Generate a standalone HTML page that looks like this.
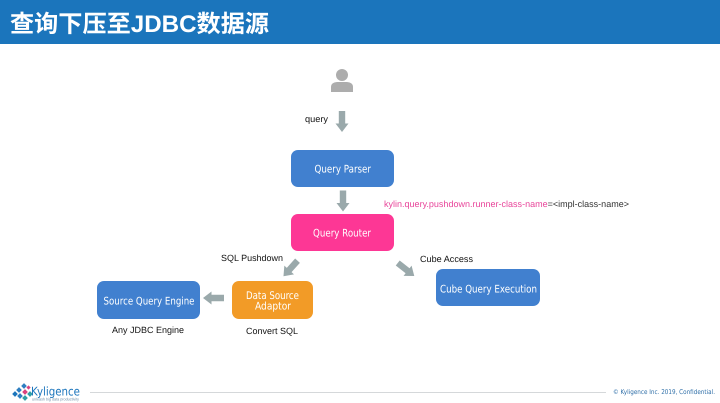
<!DOCTYPE html>
<html lang="zh">
<head>
<meta charset="utf-8">
<title>查询下压至JDBC数据源</title>
<style>
html,body{margin:0;padding:0;background:#fff}
body{width:720px;height:403px;overflow:hidden;position:relative}
svg{display:block;position:absolute;left:0;top:0;filter:blur(.35px);text-rendering:geometricPrecision}
</style>
</head>
<body>
<svg width="720" height="403" viewBox="0 0 720 403" xmlns="http://www.w3.org/2000/svg">
<defs>
<path id="arr" d="M-3.200,-10.500 H3.200 V2 H6.500 L0,10.500 L-6.500,2 H-3.200 Z" fill="#9aa9ab"/>
</defs>
<rect width="720" height="403" fill="#fff"/>
<rect width="720" height="44" fill="#1b75bc"/>
<text x="10" y="32" font-family="'Liberation Sans','Noto Sans CJK SC',sans-serif" font-size="24" font-weight="700" fill="#fff" textLength="259" lengthAdjust="spacingAndGlyphs">查询下压至JDBC数据源</text>

<!-- user -->
<circle cx="342" cy="75" r="6" fill="#adadad"/>
<path d="M331,92 V87 Q331,82.500 337,82 H347 Q353,82.500 353,87 V92 Z" fill="#adadad"/>

<!-- arrows -->
<use href="#arr" transform="translate(342,121.500)"/>
<use href="#arr" transform="translate(343,201)"/>
<use href="#arr" transform="translate(290.500,268.500) rotate(42)"/>
<use href="#arr" transform="translate(406,269.500) rotate(-52)"/>
<use href="#arr" transform="translate(213.500,298) rotate(90)"/>

<!-- boxes -->
<rect x="291" y="150" width="103" height="37" rx="7" fill="#4180cf"/>
<rect x="291" y="214" width="103" height="37" rx="7" fill="#fd3795"/>
<rect x="97" y="281" width="103" height="38" rx="7" fill="#4180cf"/>
<rect x="232" y="281" width="81" height="38" rx="7" fill="#f29b27"/>
<rect x="436" y="269" width="104" height="37" rx="7" fill="#4180cf"/>

<g font-family="'DejaVu Sans',sans-serif" font-size="10.500" fill="#fff">
<text x="314.500" y="172.500" textLength="56.500" lengthAdjust="spacingAndGlyphs">Query Parser</text>
<text x="313" y="236.500" textLength="58" lengthAdjust="spacingAndGlyphs">Query Router</text>
<text x="103.500" y="304.500" textLength="91" lengthAdjust="spacingAndGlyphs">Source Query Engine</text>
<text x="246" y="299" textLength="53" lengthAdjust="spacingAndGlyphs">Data Source</text>
<text x="255" y="309.500" textLength="36" lengthAdjust="spacingAndGlyphs">Adaptor</text>
<text x="440" y="292.500" textLength="97" lengthAdjust="spacingAndGlyphs">Cube Query Execution</text>
</g>

<g font-family="'Liberation Sans',sans-serif" font-size="9" fill="#111">
<text x="305" y="122" textLength="23" lengthAdjust="spacingAndGlyphs">query</text>
<text x="221" y="261" textLength="62" lengthAdjust="spacingAndGlyphs">SQL Pushdown</text>
<text x="420" y="262" textLength="53" lengthAdjust="spacingAndGlyphs">Cube Access</text>
<text x="112" y="333" textLength="72" lengthAdjust="spacingAndGlyphs">Any JDBC Engine</text>
<text x="246" y="334" textLength="52" lengthAdjust="spacingAndGlyphs">Convert SQL</text>
<text x="384" y="207" textLength="245" lengthAdjust="spacingAndGlyphs"><tspan fill="#e8459a">kylin.query.pushdown.runner-class-name</tspan><tspan fill="#333">=&lt;impl-class-name&gt;</tspan></text>
</g>

<!-- footer -->
<line x1="90" y1="392.500" x2="606" y2="392.500" stroke="#d5d8da" stroke-width="1"/>
<g>
<rect x="17" y="388" width="4" height="4" transform="rotate(45 19 390)" fill="#2f7fc1"/>
<rect x="22" y="384" width="4" height="4" transform="rotate(45 24 386)" fill="#2f7fc1"/>
<rect x="13" y="392" width="4" height="4" transform="rotate(45 15 394)" fill="#1b75bc"/>
<rect x="18" y="394" width="4" height="4" transform="rotate(45 20 396)" fill="#2f7fc1"/>
<rect x="23" y="390" width="4" height="4" transform="rotate(45 25 392)" fill="#d9437f"/>
<rect x="27" y="386" width="3" height="3" transform="rotate(45 28.500 387.500)" fill="#d9437f"/>
<rect x="23" y="396" width="4" height="4" transform="rotate(45 25 398)" fill="#2f9fa8"/>
<rect x="28" y="392" width="4" height="4" transform="rotate(45 30 394)" fill="#2f9fa8"/>
</g>
<text x="31" y="395.500" font-family="'DejaVu Sans',sans-serif" font-size="12" fill="#1b75bc" textLength="49" lengthAdjust="spacingAndGlyphs">Kyligence</text>
<text x="32" y="400.500" font-family="'Liberation Sans',sans-serif" font-size="4" fill="#6f8fa8" textLength="47" lengthAdjust="spacingAndGlyphs">unleash big data productivity</text>
<text x="613" y="394" font-family="'DejaVu Sans',sans-serif" font-size="6.500" fill="#2f6fa8" textLength="102" lengthAdjust="spacingAndGlyphs">© Kyligence Inc. 2019, Confidential.</text>
</svg>
</body>
</html>
